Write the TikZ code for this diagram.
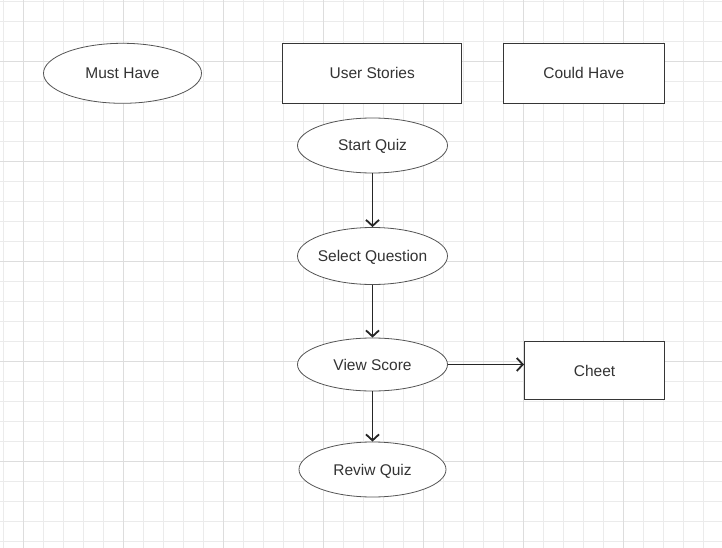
\documentclass[tikz,border=0pt]{standalone}
\usepackage{fontspec}
\setmainfont{Liberation Sans}
\usetikzlibrary{shapes.geometric,arrows.meta}
\definecolor{gridminor}{HTML}{EBEBEB}
\definecolor{gridmajor}{HTML}{DDDDDD}
\definecolor{txt}{HTML}{333333}
\definecolor{edge}{HTML}{363636}
\begin{document}
\begin{tikzpicture}[x=1pt,y=-1pt,
  base/.style={font=\fontsize{15.5pt}{18pt}\selectfont, text=txt, inner sep=0pt, text height=11pt, text depth=0pt},
  oval/.style={base, ellipse, draw=edge!85, line width=0.8pt, fill=white, minimum width=150pt, minimum height=55pt},
  box/.style={base, rectangle, draw=edge, line width=1pt, fill=white},
  arr/.style={draw=black!85, line width=0.8pt, -{Straight Barb[length=6pt,width=13pt,line width=1.8pt]}}]
\useasboundingbox (0,0) rectangle (722,548);
\fill[white] (0,0) rectangle (722,548);
\foreach \i in {0,...,35} \draw[gridminor, line width=1pt] (3.3+20*\i,0) -- (3.3+20*\i,548);
\foreach \i in {0,...,27} \draw[gridminor, line width=1pt] (0,1.7+20*\i) -- (722,1.7+20*\i);
\foreach \i in {0,...,6} \draw[gridmajor, line width=1pt] (23.3+100*\i,0) -- (23.3+100*\i,548);
\foreach \i in {0,...,4} \draw[gridmajor, line width=1pt] (0,61.7+100*\i) -- (722,61.7+100*\i);

\node[oval, minimum width=158pt, minimum height=60pt] (must) at (122.5,73.3) {Must Have};
\node[box, minimum width=179pt, minimum height=60pt] (stories) at (372.2,73.3) {User Stories};
\node[box, minimum width=161pt, minimum height=60pt] (could) at (583.8,73.3) {Could Have};
\node[oval] (start) at (372.5,145.5) {Start Quiz};
\node[oval, minimum height=57pt, inner xsep=-12pt] (select) at (372.5,256) {Select Question};
\node[oval, minimum height=53pt] (view) at (372.5,364.5) {View Score};
\node[box, minimum width=140pt, minimum height=58pt] (cheet) at (594.5,370.5) {Cheet};
\node[oval, minimum width=147pt] (review) at (372.5,469.5) {Reviw Quiz};

\draw[arr] (start.south) -- (select.north);
\draw[arr] (select.south) -- (view.north);
\draw[arr] (view.south) -- (review.north);
\draw[arr] (view.east) -- (view.east -| cheet.west);
\end{tikzpicture}
\end{document}
